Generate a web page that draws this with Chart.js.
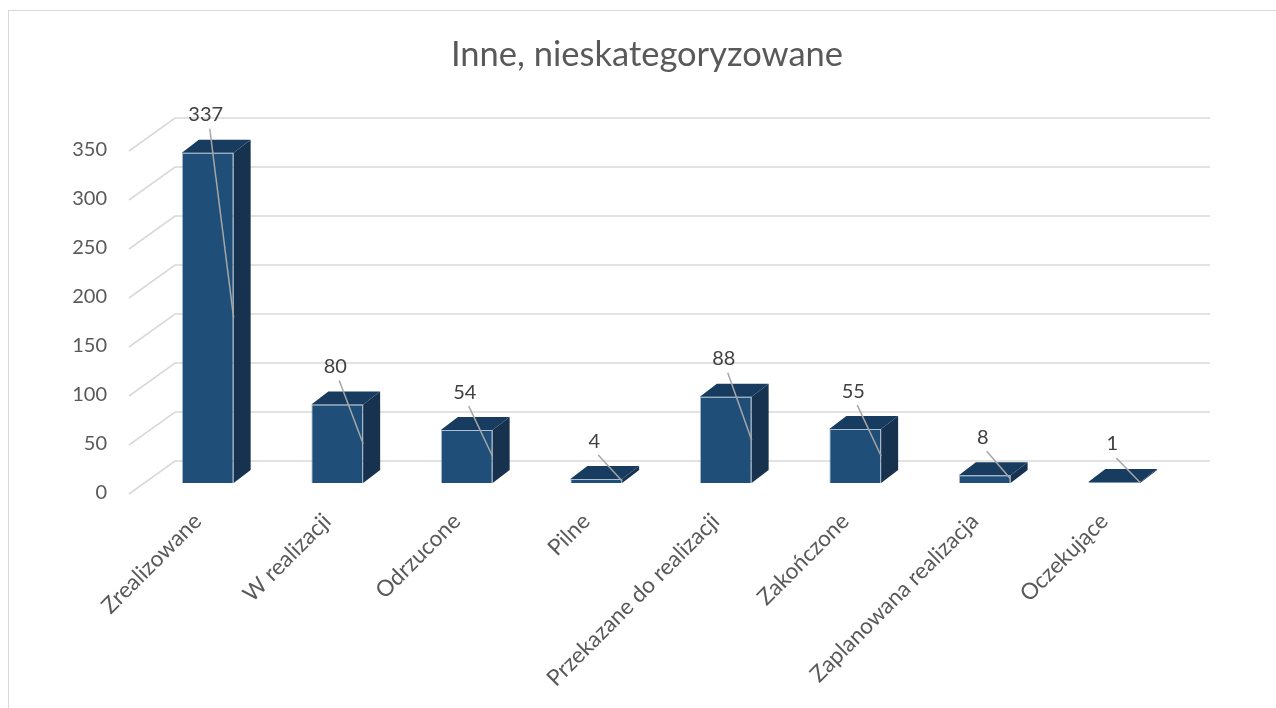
<!DOCTYPE html>
<html>
<head>
<meta charset="utf-8">
<script src="https://cdn.jsdelivr.net/npm/chart.js@4/dist/chart.umd.min.js"></script>
<style>
  html, body { margin: 0; padding: 0; background: #fff; overflow: hidden; }
  .wrap { position: relative; width: 1276px; height: 708px; }
  .frame { position: absolute; left: 8px; top: 10px; width: 1290px; height: 720px; border: 1px solid #d9d9d9; pointer-events: none; }
  canvas { position: absolute; left: 0; top: 0; }
</style>
</head>
<body>
<div class="wrap">
  <canvas id="chart" width="1276" height="708"></canvas>
  <div class="frame"></div>
</div>
<script>
const title = "Inne, nieskategoryzowane";
const categories = [
  "Zrealizowane",
  "W realizacji",
  "Odrzucone",
  "Pilne",
  "Przekazane do realizacji",
  "Zakończone",
  "Zaplanowana realizacja",
  "Oczekujące",
];
const counts = [337, 80, 54, 4, 88, 55, 8, 1];
const yTicks = [0, 50, 100, 150, 200, 250, 300, 350];

const FONT = "Lato, 'Open Sans', sans-serif";
const DEPTH_X = 17;
const DEPTH_Y = 13;

// back wall grid + floor diagonals, like excel 3d column
const grid3d = {
  id: "grid3d",
  beforeDatasetsDraw(chart) {
    const y = chart.scales.y;
    const ctx = chart.ctx;
    ctx.save();
    ctx.strokeStyle = "#d9d9d9";
    ctx.lineWidth = 1.6;
    yTicks.forEach((v) => {
      const py = y.getPixelForValue(v);
      ctx.beginPath();
      ctx.moveTo(129, py + 11);
      ctx.lineTo(175, py - 22);
      ctx.lineTo(1210, py - 22);
      ctx.stroke();
    });
    ctx.restore();
  },
};

const bars3d = {
  id: "bars3d",
  afterDatasetsDraw(chart) {
    const ctx = chart.ctx;
    const meta = chart.getDatasetMeta(0);
    ctx.save();
    meta.data.forEach((bar, i) => {
      const left = bar.x - bar.width / 2;
      const right = bar.x + bar.width / 2;
      const top = bar.y;
      const bottom = bar.base;
      // side
      ctx.fillStyle = "#16324f";
      ctx.beginPath();
      ctx.moveTo(right, top);
      ctx.lineTo(right + DEPTH_X, top - DEPTH_Y);
      ctx.lineTo(right + DEPTH_X, bottom - DEPTH_Y);
      ctx.lineTo(right, bottom);
      ctx.closePath();
      ctx.fill();
      // top
      ctx.fillStyle = "#183c60";
      ctx.beginPath();
      ctx.moveTo(left, top);
      ctx.lineTo(left + DEPTH_X, top - DEPTH_Y);
      ctx.lineTo(right + DEPTH_X, top - DEPTH_Y);
      ctx.lineTo(right, top);
      ctx.closePath();
      ctx.fill();

      // data label with leader line
      const lx = bar.x - 2;
      const ly = top - 38;
      ctx.strokeStyle = "#a6a6a6";
      ctx.lineWidth = 1.5;
      ctx.beginPath();
      ctx.moveTo(lx + 4, ly + 14);
      ctx.lineTo(right, (top + bottom) / 2);
      ctx.stroke();
      ctx.fillStyle = "#404040";
      ctx.font = "20px " + FONT;
      ctx.textAlign = "center";
      ctx.textBaseline = "middle";
      ctx.fillText(String(counts[i]), lx, ly);
    });
    ctx.restore();
  },
};

const titlePlugin = {
  id: "titleDraw",
  afterDraw(chart) {
    const ctx = chart.ctx;
    ctx.save();
    ctx.fillStyle = "#595959";
    ctx.font = "34.5px " + FONT;
    ctx.textAlign = "center";
    ctx.textBaseline = "middle";
    ctx.fillText(title, 647, 55);
    ctx.restore();
  },
};

const ctx = document.getElementById("chart").getContext("2d");
new Chart(ctx, {
  type: "bar",
  data: {
    labels: categories,
    datasets: [
      {
        data: counts,
        backgroundColor: "#1f4e79",
        borderColor: "rgba(120,150,185,0.6)",
        borderWidth: 1,
        barPercentage: 0.4,
        categoryPercentage: 1,
      },
    ],
  },
  options: {
    responsive: false,
    animation: false,
    layout: {
      padding: { top: 140, right: 97, left: 0, bottom: 0 },
    },
    plugins: {
      legend: { display: false },
      title: { display: false },
      tooltip: { enabled: false },
    },
    scales: {
      x: {
        grid: { display: false },
        border: { display: false },
        ticks: {
          minRotation: 45,
          maxRotation: 45,
          padding: 17,
          labelOffset: -10,
          color: "#595959",
          font: { family: FONT, size: 22.5 },
        },
        afterFit(scale) {
          scale.height = 225;
        },
      },
      y: {
        min: 0,
        max: 350,
        grid: { display: false, drawTicks: false },
        border: { display: false },
        ticks: {
          stepSize: 50,
          padding: 36,
          labelOffset: 10,
          color: "#595959",
          font: { family: FONT, size: 20 },
        },
        afterFit(scale) {
          scale.width = 143;
        },
      },
    },
  },
  plugins: [grid3d, bars3d, titlePlugin],
});
</script>
</body>
</html>
